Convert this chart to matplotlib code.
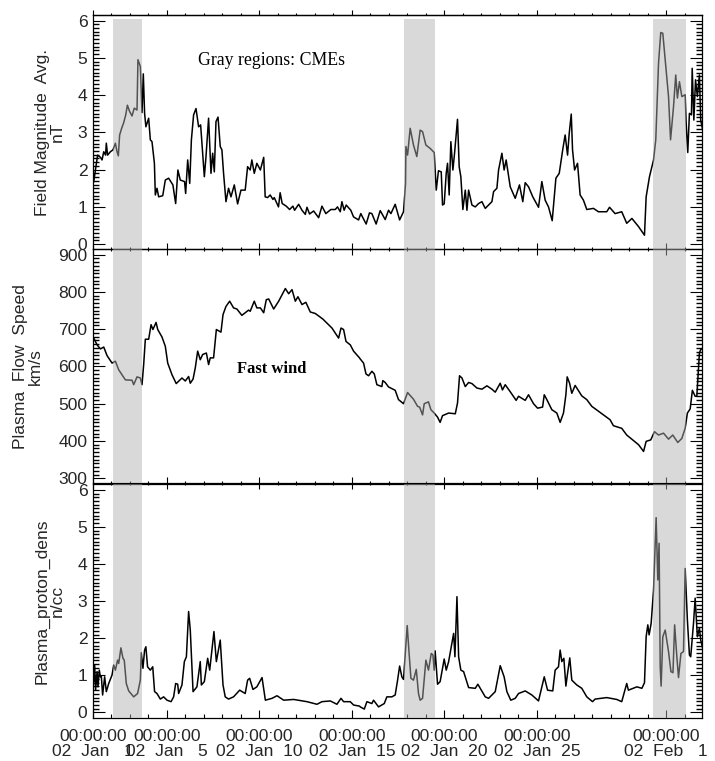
import matplotlib
matplotlib.use('Agg')
import matplotlib.pyplot as plt

plt.rcParams['font.family'] = ['Liberation Sans', 'DejaVu Sans']
plt.rcParams['font.size'] = 12.6

# time axis is day of January (32 = 1 Feb)
day_b = [1.04, 1.13, 1.25, 1.40, 1.49, 1.58, 1.68, 1.72, 1.79, 1.94,
         2.08, 2.21, 2.30, 2.37, 2.44, 2.55, 2.66, 2.77, 2.86, 2.98,
         3.11, 3.23, 3.38, 3.43, 3.56, 3.65, 3.72, 3.79, 3.86, 4.01,
         4.10, 4.19, 4.32, 4.37, 4.46, 4.55, 4.77, 4.91, 5.09, 5.32,
         5.47, 5.59, 5.72, 5.95, 6.01, 6.12, 6.23, 6.32, 6.44, 6.57,
         6.71, 6.82, 6.89, 7.02, 7.11, 7.25, 7.38, 7.47, 7.56, 7.65,
         7.76, 7.88, 7.97, 8.06, 8.19, 8.33, 8.46, 8.64, 8.82, 9.00,
         9.23, 9.36, 9.50, 9.59, 9.72, 9.86, 10.05, 10.23,
         10.31, 10.44, 10.58, 10.73, 10.80, 11.03, 11.12, 11.23, 11.45, 11.63,
         11.81, 11.90, 12.12, 12.30, 12.48, 12.57, 12.71, 12.93, 13.20, 13.38,
         13.59, 13.86, 14.10, 14.22, 14.37, 14.46, 14.58, 14.69, 14.94, 15.09,
         15.36, 15.48, 15.77, 15.95, 16.08, 16.31, 16.53, 16.80, 16.98, 17.11,
         17.34, 17.58, 17.79, 17.90,
         17.92, 18.01, 18.15, 18.33, 18.51, 18.69, 18.82, 19.00, 19.23,
         19.45, 19.56, 19.68, 19.83, 19.90, 19.99, 20.10, 20.17, 20.26, 20.35,
         20.46, 20.55, 20.71, 20.80, 20.89, 21.00, 21.13, 21.22, 21.31, 21.49,
         21.67, 21.85, 22.03, 22.21, 22.57, 22.66, 22.84, 22.93, 23.11, 23.23,
         23.34, 23.56, 23.83, 24.06, 24.24, 24.37, 24.55, 24.78, 25.09, 25.27,
         25.45, 25.63, 25.83, 26.03, 26.21, 26.41, 26.53, 26.66, 26.75, 26.86,
         26.93, 27.04, 27.20, 27.34, 27.52, 27.70, 28.06, 28.33, 28.78, 28.93,
         29.23, 29.59, 29.86, 30.14, 30.50, 30.82, 30.91, 31.09, 31.31, 31.43,
         31.58, 31.70, 31.81, 31.94, 32.12, 32.23, 32.39, 32.51, 32.60, 32.71,
         32.84, 33.02, 33.07, 33.16, 33.25, 33.36, 33.40, 33.49, 33.58, 33.68,
         33.79, 33.86, 33.97]
field_mag = [1.68, 1.99, 2.39, 2.33, 2.26, 2.48, 2.39, 2.71, 2.39, 2.48,
             2.53, 2.71, 2.48, 2.37, 2.93, 3.11, 3.26, 3.47, 3.73, 3.56,
             3.44, 3.65, 3.60, 4.95, 4.77, 3.53, 4.57, 3.51, 3.15, 3.38,
             2.80, 2.75, 2.17, 1.32, 1.50, 1.27, 1.30, 1.72, 1.77, 1.59,
             1.09, 1.99, 1.72, 1.68, 1.36, 2.26, 1.63, 2.80, 3.47, 3.64,
             3.15, 3.20, 2.71, 1.81, 2.35, 3.38, 1.90, 2.44, 1.94, 3.29,
             3.41, 2.62, 2.53, 1.90, 1.14, 1.50, 1.27, 1.59, 1.08, 1.45,
             1.45, 2.08, 1.99, 2.26, 1.90, 2.17, 1.99, 2.33,
             1.27, 1.25, 1.32, 1.20, 1.25, 1.00, 1.38, 1.09, 1.02, 0.93,
             1.02, 0.91, 1.07, 0.91, 0.80, 0.99, 0.81, 0.89, 0.71, 1.02,
             0.82, 0.93, 0.93, 1.00, 0.87, 1.14, 0.91, 1.05, 0.91, 0.73,
             0.65, 0.82, 0.54, 0.84, 0.82, 0.54, 0.90, 0.66, 0.91, 0.82,
             1.07, 0.65, 0.87, 1.63,
             2.62, 2.39, 3.11, 2.66, 2.35, 3.06, 3.02, 2.66, 2.57,
             2.46, 1.45, 1.97, 1.94, 1.05, 1.08, 1.90, 2.17, 1.32, 2.75,
             1.99, 2.44, 3.35, 2.08, 1.81, 0.93, 1.45, 0.91, 1.45, 1.05,
             1.00, 1.09, 1.14, 0.96, 1.14, 1.41, 1.50, 1.99, 2.44, 1.99,
             2.26, 1.54, 1.23, 1.59, 1.14, 1.65, 1.54, 1.27, 0.99, 1.68,
             1.18, 1.00, 0.63, 1.77, 1.90, 2.57, 2.93, 2.39, 2.97, 3.49,
             2.53, 1.99, 2.17, 1.32, 1.18, 0.93, 0.96, 0.87, 0.87, 0.99,
             0.82, 0.87, 0.56, 0.69, 0.47, 0.24, 1.27, 1.81, 2.26, 2.80,
             4.86, 5.68, 5.66, 4.95, 3.96, 2.80, 3.69, 4.54, 3.92, 4.36,
             3.96, 4.01, 3.29, 2.46, 3.51, 3.47, 4.72, 3.33, 4.41, 3.96,
             4.54, 3.33, 3.06]

day_v = [1.04, 1.22, 1.40, 1.58, 1.76, 2.03, 2.21, 2.39, 2.75, 3.11,
         3.20, 3.38, 3.56, 3.65, 3.74, 3.83, 4.01, 4.14, 4.24, 4.41,
         4.50, 4.73, 4.91, 5.04, 5.27, 5.50, 5.81, 5.99, 6.17, 6.26,
         6.41, 6.53, 6.66, 6.80, 6.93, 7.13, 7.25, 7.34, 7.52, 7.67,
         7.92, 8.03, 8.19, 8.39, 8.60, 8.78, 9.05, 9.41, 9.50, 9.72,
         9.86, 10.05, 10.23, 10.37, 10.50, 10.77, 11.04, 11.40, 11.58, 11.76,
         11.94, 12.08, 12.30, 12.51, 12.75, 13.02, 13.43, 13.92, 14.28, 14.41,
         14.55, 14.68, 14.91, 15.09, 15.41,
         15.45, 15.63, 15.76, 15.90, 16.08, 16.21, 16.35, 16.62, 16.67, 16.80,
         16.98, 17.34, 17.52, 17.79, 18.01, 18.33, 18.55, 18.66, 18.82, 18.91,
         19.14, 19.27, 19.45, 19.63, 19.77, 19.90, 20.23, 20.59, 20.71, 20.82,
         20.95, 21.13, 21.31, 21.49, 21.76, 22.03, 22.30, 22.57, 22.75, 23.02,
         23.14, 23.29, 23.59, 23.88, 24.01, 24.37, 24.55, 24.82, 25.04, 25.31,
         25.40, 25.54, 25.81, 26.08, 26.26, 26.44, 26.57, 26.64, 26.77, 26.89,
         27.07, 27.43, 27.70, 27.97, 28.96, 29.14, 29.59, 29.86, 30.50, 30.77,
         30.91, 31.16, 31.36, 31.58, 31.85, 32.12, 32.35, 32.62, 32.84, 33.02,
         33.14, 33.29, 33.41, 33.56, 33.65, 33.79, 33.86, 33.97]
flow_speed = [676, 658, 647, 652, 629, 609, 614, 591, 564, 563,
              551, 572, 569, 551, 605, 673, 673, 712, 699, 718,
              699, 679, 654, 609, 578, 554, 569, 561, 573, 555,
              566, 596, 641, 618, 632, 636, 605, 623, 623, 699,
              692, 739, 761, 775, 757, 754, 737, 751, 748, 775,
              757, 757, 744, 779, 781, 754, 775, 809, 795, 806,
              775, 787, 766, 772, 746, 742, 727, 703, 676, 703,
              699, 667, 658, 641, 623,
              620, 609, 580, 575, 587, 580, 551, 546, 562, 557,
              545, 536, 511, 500, 530, 512, 493, 491, 470, 500,
              505, 484, 475, 464, 450, 468, 475, 473, 502, 575,
              569, 546, 557, 554, 542, 539, 548, 539, 531, 555,
              537, 551, 530, 509, 520, 509, 524, 500, 488, 491,
              524, 511, 484, 475, 450, 475, 524, 572, 555, 528,
              549, 521, 511, 493, 457, 441, 434, 416, 390, 372,
              399, 403, 425, 416, 421, 405, 416, 396, 407, 434,
              475, 486, 536, 520, 520, 636, 645, 649]

day_p = [1.04, 1.09, 1.14, 1.22, 1.27, 1.34, 1.40, 1.45, 1.52, 1.63,
         1.72, 1.85, 2.03, 2.12, 2.21, 2.33, 2.39, 2.51, 2.62, 2.69,
         2.80, 2.93, 3.20, 3.41, 3.56, 3.61, 3.70, 3.79, 3.86, 3.95,
         4.10, 4.23, 4.33, 4.46, 4.64, 4.82, 5.00, 5.22, 5.36, 5.47,
         5.58, 5.63, 5.81, 5.94, 6.05, 6.17, 6.26, 6.41, 6.62, 6.80,
         6.86, 7.02, 7.20, 7.31, 7.43, 7.54, 7.67, 7.88, 8.03, 8.15,
         8.33, 8.60, 8.93, 9.23, 9.36, 9.47, 9.65, 9.86, 10.14, 10.32,
         10.68, 10.95, 11.31, 11.85, 12.57, 13.11, 13.38, 13.83, 14.19, 14.41,
         14.55, 14.91, 15.09, 15.41,
         15.45, 15.67, 15.81, 16.08, 16.17, 16.44, 16.75, 16.89, 17.16, 17.34,
         17.47, 17.58, 17.70, 17.79, 17.88, 17.99, 18.08, 18.19, 18.33, 18.48,
         18.60, 18.69, 18.82, 19.00, 19.14, 19.29, 19.38, 19.45, 19.50, 19.63,
         19.77, 19.99, 20.10, 20.23, 20.50, 20.57, 20.68, 20.77, 20.89, 21.04,
         21.31, 21.67, 21.81, 22.21, 22.39, 22.75, 23.02, 23.23, 23.38, 23.59,
         23.83, 24.01, 24.37, 24.73, 25.09, 25.27, 25.40, 25.58, 25.86, 25.99,
         26.17, 26.26, 26.35, 26.46, 26.57, 26.66, 26.78, 26.89, 27.16, 27.43,
         27.70, 28.01, 28.15, 28.78, 29.32, 29.59, 29.86, 29.95, 30.41, 30.68,
         30.82, 30.91, 31.00, 31.07, 31.18, 31.31, 31.45, 31.54, 31.61, 31.67,
         31.72, 31.81, 31.94, 32.12, 32.25, 32.36, 32.45, 32.57, 32.66, 32.79,
         32.93, 33.02, 33.14, 33.25, 33.32, 33.47, 33.56, 33.68, 33.79, 33.86,
         33.97]
proton_dens = [0.83, 1.28, 0.60, 1.10, 0.69, 1.14, 0.96, 0.98, 0.47, 0.96,
               0.56, 0.78, 1.01, 1.28, 1.14, 1.41, 1.32, 1.74, 1.46, 1.41,
               0.78, 0.58, 0.42, 0.51, 0.87, 1.61, 1.19, 1.68, 1.77, 1.23,
               1.14, 1.23, 0.56, 0.51, 0.36, 0.42, 0.33, 0.29, 0.42, 0.78,
               0.76, 0.51, 0.74, 1.37, 1.50, 2.72, 2.22, 0.56, 0.69, 1.37,
               0.74, 0.83, 1.46, 1.14, 1.68, 2.18, 1.37, 1.95, 0.74, 0.42,
               0.36, 0.42, 0.60, 0.51, 0.87, 0.92, 0.62, 0.69, 0.94, 0.33,
               0.38, 0.45, 0.33, 0.35, 0.29, 0.22, 0.29, 0.31, 0.22, 0.38,
               0.29, 0.29, 0.20, 0.17,
               0.15, 0.09, 0.29, 0.24, 0.33, 0.15, 0.24, 0.42, 0.42, 0.47,
               0.87, 1.25, 0.96, 0.89, 1.55, 2.34, 1.68, 0.92, 0.87, 1.16,
               0.51, 0.33, 0.38, 1.41, 1.14, 1.59, 1.55, 1.14, 1.66, 0.76,
               0.83, 1.44, 1.14, 1.37, 2.13, 1.50, 3.12, 1.50, 1.14, 1.10,
               0.67, 0.65, 0.76, 0.42, 0.38, 0.56, 1.26, 0.96, 0.56, 0.33,
               0.38, 0.51, 0.58, 0.47, 0.31, 0.69, 0.96, 0.60, 0.58, 1.14,
               1.23, 1.68, 1.37, 1.46, 0.71, 1.05, 1.47, 0.87, 0.74, 0.65,
               0.42, 0.29, 0.36, 0.40, 0.35, 0.29, 0.78, 0.60, 0.69, 0.65,
               0.80, 2.04, 2.36, 2.09, 2.40, 3.30, 5.25, 3.57, 4.56, 1.23,
               0.71, 2.04, 2.22, 1.64, 1.10, 1.07, 2.36, 1.50, 0.94, 1.59,
               1.64, 3.88, 2.49, 1.55, 1.50, 2.40, 3.08, 2.04, 2.27, 1.95,
               1.73]

cme_start = [2.10, 17.83, 31.29]
cme_end = [3.65, 19.50, 33.05]

major_days = [1, 5, 10, 15, 20, 25, 32]
minor_days = list(range(1, 34))
xlabels = ['00:00:00\n02  Jan   1', '00:00:00\n02  Jan   5', '00:00:00\n02  Jan  10',
           '00:00:00\n02  Jan  15', '00:00:00\n02  Jan  20', '00:00:00\n02  Jan  25',
           '00:00:00\n02  Feb   1']

W, H = 715.0, 761.0
PX = 0.72  # points per pixel at dpi 100
text_color = '#262626'


def make_panel(top, bottom, ylim, major, minor_step, label, label_x):
    ax = plt.gcf().add_axes([93 / W, 1 - bottom / H, 609 / W, (bottom - top) / H])
    ax.patch.set_alpha(0)
    ax.set_xlim(1, 33.93)
    ax.set_ylim(*ylim)
    ax.set_xticks(major_days)
    ax.set_xticks(minor_days, minor=True)
    ax.set_yticks(major)
    lo = major[0]
    n = int(round((major[-1] - lo) / minor_step))
    ax.set_yticks([lo + i * minor_step for i in range(n + 1)], minor=True)
    ax.set_xticklabels([])
    ax.tick_params(axis='y', which='major', direction='in', left=True, right=True,
                   length=12 * PX, width=0.8, pad=4, labelcolor=text_color)
    ax.tick_params(axis='y', which='minor', direction='in', left=True, right=True,
                   length=6 * PX, width=1.0)
    ax.tick_params(axis='x', which='major', direction='inout', length=12 * PX, width=0.8)
    ax.tick_params(axis='x', which='minor', direction='inout', length=5 * PX, width=0.8)
    for s in ax.spines.values():
        s.set_linewidth(0.9)
    ax.set_ylabel(label, va='center', ha='center', linespacing=1.0, color=text_color)
    ax.yaxis.set_label_coords(label_x, 0.5)
    return ax


fig = plt.figure(figsize=(7.15, 7.61), dpi=100)

ax1 = make_panel(15, 249, (-0.13, 6.15), [0, 1, 2, 3, 4, 5, 6], 0.1,
                 'Field Magnitude  Avg.\nnT', -0.071)
ax2 = make_panel(249, 483.5, (286, 915), [300, 400, 500, 600, 700, 800, 900], 10,
                 'Plasma  Flow  Speed\nkm/s', -0.107)
ax3 = make_panel(483.5, 718, (-0.15, 6.17), [0, 1, 2, 3, 4, 5, 6], 0.1,
                 'Plasma_proton_dens\nn/cc', -0.071)

ax1.plot(day_b, field_mag, color='k', lw=1.1)
ax2.plot(day_v, flow_speed, color='k', lw=1.1)
ax3.plot(day_p, proton_dens, color='k', lw=1.1)

# ticks above the top frame only
sec = ax1.secondary_xaxis('top')
sec.set_xticks(major_days)
sec.set_xticks(minor_days, minor=True)
sec.set_xticklabels([])
sec.tick_params(axis='x', which='major', direction='out', length=5 * PX, width=0.8)
sec.tick_params(axis='x', which='minor', direction='out', length=2.5 * PX, width=0.8)
sec.spines['top'].set_linewidth(0.9)

ax3.tick_params(axis='x', which='major', direction='in', length=8 * PX, pad=8)
ax3.tick_params(axis='x', which='minor', direction='in', length=4 * PX)
ax3.set_xticklabels(xlabels, color=text_color, linespacing=1.0)

# CME bands sit over the traces, they were pasted on translucent
for s, e in zip(cme_start, cme_end):
    ax1.axvspan(s, e, ymin=0, ymax=0.983, facecolor='#b0b0b0', edgecolor='none', alpha=0.47, zorder=5)
    ax2.axvspan(s, e, facecolor='#b0b0b0', edgecolor='none', alpha=0.47, zorder=5)
    ax3.axvspan(s, e, facecolor='#b0b0b0', edgecolor='none', alpha=0.47, zorder=5)

ax1.text(10.66, 4.92, 'Gray regions: CMEs', family='Liberation Serif', fontsize=12.8,
         ha='center', va='center', color='k')
ax2.text(10.64, 594, 'Fast wind', family='Liberation Serif', fontsize=12, weight='bold',
         ha='center', va='center', color='k')

fig.savefig('out.png', dpi=100)
